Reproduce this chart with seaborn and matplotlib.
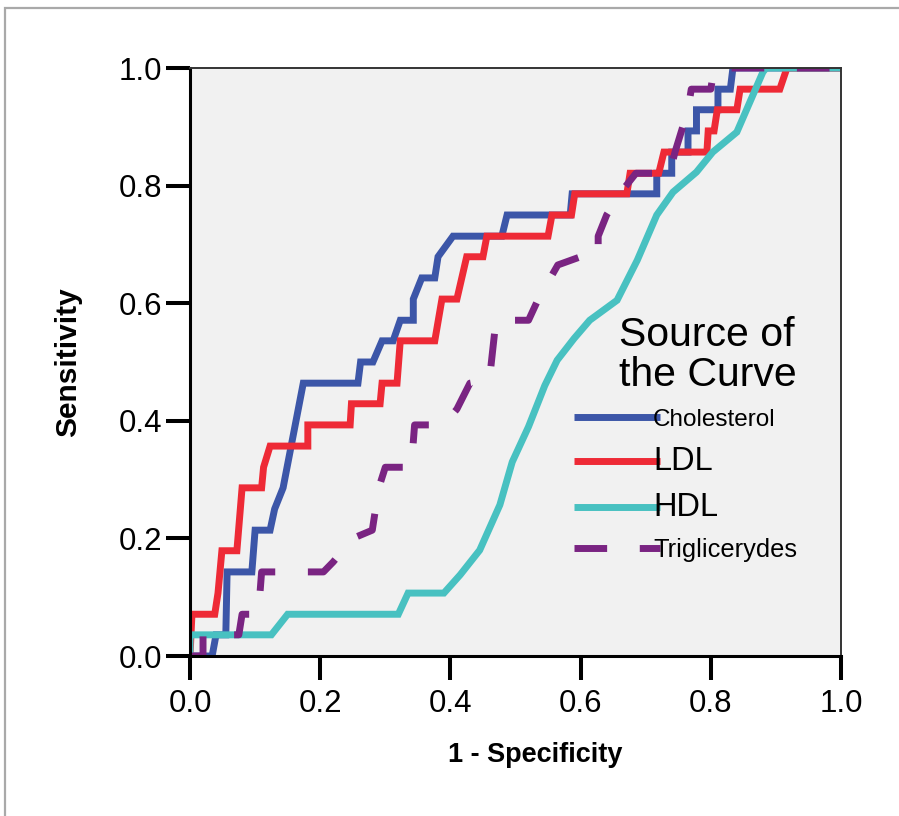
import matplotlib
matplotlib.use("Agg")
import matplotlib.pyplot as plt
import seaborn as sns
import pandas as pd
from matplotlib.patches import Rectangle

# ---- data ----
curve_names = ["Cholesterol", "LDL", "HDL", "Triglicerydes"]

chol_fpr = [0, 0.034, 0.040, 0.055, 0.057, 0.095, 0.100, 0.123, 0.130, 0.143,
            0.174, 0.258, 0.262, 0.281, 0.295, 0.312, 0.323, 0.343, 0.343, 0.356,
            0.376, 0.381, 0.404, 0.479, 0.487, 0.584, 0.587, 0.717, 0.717, 0.740,
            0.740, 0.765, 0.765, 0.778, 0.778, 0.811, 0.811, 0.830, 0.834, 1.0]
chol_tpr = [0, 0, 0.036, 0.036, 0.143, 0.143, 0.214, 0.214, 0.250, 0.286,
            0.464, 0.464, 0.500, 0.500, 0.536, 0.536, 0.571, 0.571, 0.607, 0.643,
            0.643, 0.679, 0.714, 0.714, 0.750, 0.750, 0.786, 0.786, 0.821, 0.821,
            0.857, 0.857, 0.893, 0.893, 0.929, 0.929, 0.964, 0.964, 1.0, 1.0]

ldl_fpr = [0, 0.003, 0.038, 0.043, 0.049, 0.072, 0.080, 0.110, 0.113, 0.123,
           0.181, 0.181, 0.246, 0.248, 0.292, 0.295, 0.318, 0.323, 0.376, 0.387,
           0.410, 0.425, 0.450, 0.456, 0.550, 0.556, 0.586, 0.591, 0.671, 0.676,
           0.720, 0.728, 0.794, 0.796, 0.805, 0.810, 0.840, 0.845, 0.906, 0.917, 1.0]
ldl_tpr = [0, 0.071, 0.071, 0.107, 0.179, 0.179, 0.286, 0.286, 0.321, 0.357,
           0.357, 0.393, 0.393, 0.429, 0.429, 0.464, 0.464, 0.536, 0.536, 0.607,
           0.607, 0.679, 0.679, 0.714, 0.714, 0.750, 0.750, 0.786, 0.786, 0.821,
           0.821, 0.857, 0.857, 0.893, 0.893, 0.929, 0.929, 0.964, 0.964, 1.0, 1.0]

hdl_fpr = [0, 0, 0.125, 0.150, 0.320, 0.335, 0.390, 0.415, 0.445, 0.476,
           0.495, 0.520, 0.545, 0.564, 0.590, 0.614, 0.656, 0.687, 0.717, 0.742,
           0.778, 0.803, 0.840, 0.860, 0.880, 0.885, 1.0]
hdl_tpr = [0, 0.036, 0.036, 0.071, 0.071, 0.107, 0.107, 0.138, 0.180, 0.257,
           0.330, 0.390, 0.460, 0.503, 0.540, 0.571, 0.605, 0.673, 0.750, 0.789,
           0.823, 0.857, 0.891, 0.942, 0.993, 1.0, 1.0]

trig_fpr = [0, 0.020, 0.020, 0.075, 0.080, 0.105, 0.110, 0.205, 0.220, 0.250,
            0.280, 0.290, 0.300, 0.340, 0.345, 0.390, 0.410, 0.430, 0.460, 0.470,
            0.520, 0.535, 0.565, 0.600, 0.627, 0.627, 0.640, 0.660, 0.685, 0.737,
            0.745, 0.765, 0.770, 0.800, 0.805, 1.0]
trig_tpr = [0, 0, 0.036, 0.036, 0.071, 0.071, 0.143, 0.143, 0.160, 0.200,
            0.214, 0.286, 0.321, 0.321, 0.393, 0.393, 0.420, 0.464, 0.470, 0.571,
            0.571, 0.607, 0.665, 0.679, 0.679, 0.714, 0.750, 0.786, 0.821, 0.821,
            0.857, 0.929, 0.964, 0.964, 1.0, 1.0]

x_ticks = [0.0, 0.2, 0.4, 0.6, 0.8, 1.0]
y_ticks = [0.0, 0.2, 0.4, 0.6, 0.8, 1.0]
x_label = "1 - Specificity"
y_label = "Sensitivity"
legend_title = "Source of\nthe Curve"

# ---- build long table ----
frames = []
for name, fx, fy in zip(curve_names,
                        [chol_fpr, ldl_fpr, hdl_fpr, trig_fpr],
                        [chol_tpr, ldl_tpr, hdl_tpr, trig_tpr]):
    frames.append(pd.DataFrame({"fpr": fx, "tpr": fy, "curve": name}))
df = pd.concat(frames, ignore_index=True)

palette = {"Cholesterol": "#3c56a8", "LDL": "#ee2a36",
           "HDL": "#48c1c1", "Triglicerydes": "#7a2482"}
dashes = {"Cholesterol": "", "LDL": "", "HDL": "", "Triglicerydes": (4.7, 4.7)}

sns.set_style("ticks")
plt.rcParams["font.family"] = ["Liberation Sans", "DejaVu Sans"]
plt.rcParams.update({"text.color": "black", "axes.labelcolor": "black",
                     "xtick.color": "black", "ytick.color": "black"})

fig = plt.figure(figsize=(8.99, 8.16), dpi=100)
ax = fig.add_axes([190 / 899, 1 - 656 / 816, 651 / 899, 588 / 816])
ax.set_facecolor("#f1f1f1")

sns.lineplot(data=df, x="fpr", y="tpr", hue="curve", style="curve",
             hue_order=curve_names, style_order=curve_names,
             palette=palette, dashes=dashes, sort=False, estimator=None,
             units="curve", linewidth=5, ax=ax)
for ln in ax.get_lines():
    ln.set_solid_capstyle("butt")
    ln.set_dash_capstyle("butt")
    ln.set_solid_joinstyle("miter")

ax.set_xlim(0, 1)
ax.set_ylim(0, 1)
ax.set_xticks(x_ticks)
ax.set_yticks(y_ticks)
ax.set_xticklabels([f"{v:.1f}" for v in x_ticks])
ax.set_yticklabels([f"{v:.1f}" for v in y_ticks])
ax.tick_params(axis="both", length=17, width=2.9, color="black",
               labelsize=22.5, labelcolor="black")
ax.tick_params(axis="x", pad=7)
ax.tick_params(axis="y", pad=3)

for side in ["left", "bottom"]:
    ax.spines[side].set_linewidth(2.2)
    ax.spines[side].set_color("black")
for side in ["top", "right"]:
    ax.spines[side].set_visible(True)
    ax.spines[side].set_linewidth(1.4)
    ax.spines[side].set_color("#333333")

ax.set_xlabel(x_label, fontsize=19.5, fontweight="bold", va="top", color="black")
ax.set_ylabel(y_label, fontsize=21.5, fontweight="bold", color="black")
ax.xaxis.set_label_coords(0.531, -0.146)
ax.yaxis.set_label_coords(-0.166, 0.5)

handles, labels = ax.get_legend_handles_labels()
if ax.get_legend() is not None:
    ax.get_legend().remove()
leg = ax.legend(handles, labels, title=legend_title, frameon=False,
                loc="upper left", bbox_to_anchor=(0.59, 0.578),
                fontsize=18, title_fontsize=29.5, handlelength=3.44,
                handletextpad=-0.28, labelspacing=0.6, borderpad=0,
                borderaxespad=0, alignment="right")
leg.get_title().set_multialignment("left")
leg.get_title().set_linespacing(1.05)
leg.get_title().set_color("black")
sizes = {"Cholesterol": 17.5, "LDL": 23.5, "HDL": 23.5, "Triglicerydes": 18.3}
for t in leg.get_texts():
    t.set_fontsize(sizes.get(t.get_text(), 18))
    t.set_color("black")
for h in leg.legend_handles:
    h.set_linewidth(5)

# outer figure frame (grey border at left and top)
fig.patches.append(Rectangle((5 / 899, -0.5), 2.0, 0.5 + 1 - 8 / 816,
                             transform=fig.transFigure, fill=False,
                             edgecolor="#a9a9a9", linewidth=1.6))

fig.savefig("out.png", dpi=100)
